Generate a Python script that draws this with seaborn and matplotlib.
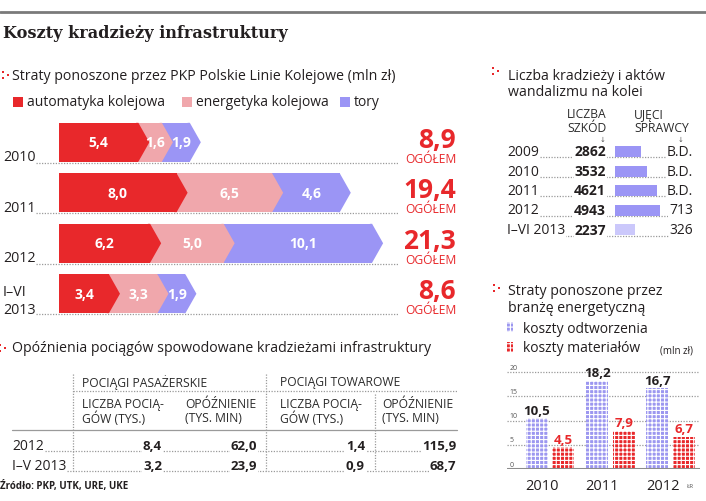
import matplotlib
matplotlib.use("Agg")
import matplotlib.pyplot as plt
from matplotlib.patches import Polygon, Rectangle
import seaborn as sns
import pandas as pd
import numpy as np

# ---------------- data ----------------
bar_years = ["2010", "2011", "2012", "I–VI\n2013"]
automatyka = [5.4, 8.0, 6.2, 3.4]
energetyka = [1.6, 6.5, 5.0, 3.3]
tory = [1.9, 4.6, 10.1, 1.9]
ogolem = [8.9, 19.4, 21.3, 8.6]

kr_years = ["2009", "2010", "2011", "2012", "I–VI 2013"]
liczba_szkod = [2862, 3532, 4621, 4943, 2237]
ujeci_sprawcy = ["B.D.", "B.D.", "B.D.", "713", "326"]

en_years = ["2010", "2011", "2012"]
koszty_odtworzenia = [10.5, 18.2, 16.7]
koszty_materialow = [4.5, 7.9, 6.7]

tab_rows = ["2012", "I–V 2013"]
pas_liczba = [8.4, 3.2]
pas_opozn = [62.0, 23.9]
tow_liczba = [1.4, 0.9]
tow_opozn = [115.9, 68.7]

# ---------------- style ----------------
sns.set_theme(style="white")
plt.rcParams["font.family"] = ["Open Sans", "DejaVu Sans"]
plt.rcParams["hatch.linewidth"] = 0.8

RED = "#e8282b"
PINK = "#f0a7ac"
PURPLE = "#9b95f5"
LPURPLE = "#cbc8fb"
TXT = "#231f20"
HDR = "#2b2b2b"

W, H = 706, 502
fig = plt.figure(figsize=(W / 100, H / 100), dpi=100)


def ax_px(x0, y0, x1, y1):
    return fig.add_axes([x0 / W, 1 - y1 / H, (x1 - x0) / W, (y1 - y0) / H])


def fmt(v):
    return f"{v:.1f}".replace(".", ",")


# overlay in pixel coordinates
ov = ax_px(0, 0, W, H)
ov.set_xlim(0, W)
ov.set_ylim(H, 0)
ov.axis("off")

DOT = dict(color="#9a9a9a", lw=0.9, ls=(0, (1, 1.2)))
WB = dict(facecolor="white", edgecolor="none", pad=0.6)
HS = 10.2   # section heading size
LS = 10.0   # legend size
CS = 8.7    # caps header size


def red_marker(x, y):
    ov.scatter([x, x, x + 5], [y - 3, y + 3, y], s=4, marker="s", color=RED, lw=0)


# top rule & title
ov.plot([0, W], [13, 13], color="#7a7a7a", lw=2)
ov.text(3, 34, "Koszty kradzieży infrastruktury", fontsize=11.6, fontweight="bold",
        family="DejaVu Serif", color=TXT, va="center", ha="left")

# ---------------- PKP bars ----------------
red_marker(3, 76)
ov.text(12, 76, "Straty ponoszone przez PKP Polskie Linie Kolejowe (mln zł)",
        fontsize=HS, color=TXT, va="center")
leg = [("automatyka kolejowa", RED, 13), ("energetyka kolejowa", PINK, 182), ("tory", PURPLE, 340)]
for lab, c, x in leg:
    ov.add_patch(Rectangle((x, 98), 10, 10, color=c, lw=0))
    ov.text(x + 14, 103, lab, fontsize=LS, color=TXT, va="center")

PXU = 14.7
bx0, bx1 = 59, 459
axb = ax_px(bx0, 118, bx1, 320)
cum1 = np.array(automatyka)
cum2 = cum1 + np.array(energetyka)
cum3 = cum2 + np.array(tory)
tip = 11 / PXU
bh = 0.77
layers = [(cum3, PURPLE, 2), (cum2, PINK, 3), (cum1, RED, 4)]
for vals, col, z in layers:
    n0 = len(axb.patches)
    df = pd.DataFrame({"rok": bar_years, "v": vals})
    sns.barplot(data=df, x="v", y="rok", orient="h", color=col, saturation=1,
                width=bh, linewidth=0, ax=axb)
    for p in list(axb.patches)[n0:]:
        p.set_zorder(z)
        x_end = p.get_x() + p.get_width()
        y0 = p.get_y()
        y1 = y0 + p.get_height()
        axb.add_patch(Polygon([(x_end - 0.15, y0), (x_end, y0), (x_end + tip, (y0 + y1) / 2),
                               (x_end, y1), (x_end - 0.15, y1)],
                              closed=True, color=col, lw=0, zorder=z))
axb.set_xlim(0, (bx1 - bx0) / PXU)
axb.set_ylim(3.5, -0.5)
axb.axis("off")

starts = [np.zeros(4), cum1, cum2]
segs = [automatyka, energetyka, tory]
for k in range(3):
    for i in range(4):
        s = starts[k][i] + (tip if k > 0 else 0)
        e = starts[k][i] + segs[k][i]
        axb.text((s + e) / 2, i, fmt(segs[k][i]), color="white", fontsize=10,
                 fontweight="bold", ha="center", va="center", zorder=6)

centers = [143.5, 194, 244.5, 295]
for i, c in enumerate(centers):
    bottom = c + 19.5
    ov.plot([3, 399], [bottom + 0.5, bottom + 0.5], **DOT)
    ov.text(456, c - 3, fmt(ogolem[i]), color=RED, fontsize=19, fontweight="bold",
            ha="right", va="center")
    ov.text(456, bottom - 3.5, "OGÓŁEM", color=RED, fontsize=8.7, ha="right", va="center")
    lab = bar_years[i]
    if "\n" in lab:
        l1, l2 = lab.split("\n")
        ov.text(3, c - 2, l1, fontsize=10.3, color=TXT, va="center", ha="left")
        ov.text(3, bottom - 4, l2, fontsize=10.3, color=TXT, va="center", ha="left", bbox=WB)
    else:
        ov.text(3, bottom - 5, lab, fontsize=10.3, color=TXT, va="center", ha="left", bbox=WB)

# ---------------- kradzieże panel ----------------
red_marker(493, 72)
ov.text(508, 76, "Liczba kradzieży i aktów", fontsize=HS, color=TXT, va="center")
ov.text(508, 93, "wandalizmu na kolei", fontsize=HS, color=TXT, va="center")
ov.text(567, 115, "LICZBA", fontsize=CS, color=HDR, va="center")
ov.text(567, 128, "SZKÓD", fontsize=CS, color=HDR, va="center")
ov.text(634, 115, "UJĘCI", fontsize=CS, color=HDR, va="center")
ov.text(634, 128, "SPRAWCY", fontsize=CS, color=HDR, va="center")
ov.text(603, 140, "↓", fontsize=5, color="#555", ha="center", va="center", family="DejaVu Sans")
ov.text(681, 140, "↓", fontsize=5, color="#555", ha="center", va="center", family="DejaVu Sans")

PXK = 0.0091
axk = ax_px(615, 142.7, 700, 240.8)
dfk = pd.DataFrame({"rok": kr_years, "n": liczba_szkod})
sns.barplot(data=dfk, x="n", y="rok", hue="rok", orient="h",
            palette=[PURPLE] * 4 + [LPURPLE], saturation=1, width=0.56,
            linewidth=0, legend=False, ax=axk)
axk.set_xlim(0, 85 / PXK)
axk.set_ylim(4.5, -0.5)
axk.axis("off")
for p in axk.patches:
    p.set_zorder(3)
kc = [152.5, 172.5, 191.5, 211, 231]
for i, c in enumerate(kc):
    ov.plot([507, 692], [c + 5.5, c + 5.5], **DOT)
    ov.text(507, c, kr_years[i], fontsize=10, color=TXT, va="center", ha="left", bbox=WB)
    ov.text(606, c, str(liczba_szkod[i]), fontsize=10, fontweight="bold", color=TXT,
            va="center", ha="right", bbox=WB)
    ov.text(693, c, ujeci_sprawcy[i], fontsize=10, color=TXT, va="center", ha="right", bbox=WB)

# ---------------- energetyka panel ----------------
HATCH = "||||----"
EPURPLE = "#9c97f0"
red_marker(494, 289)
ov.text(508, 292, "Straty ponoszone przez", fontsize=HS, color=TXT, va="center")
ov.text(508, 309, "branżę energetyczną", fontsize=HS, color=TXT, va="center")
ov.add_patch(Rectangle((507, 323), 6, 10, facecolor=EPURPLE, edgecolor="white",
                       hatch=HATCH, lw=0))
ov.text(523, 330, "koszty odtworzenia", fontsize=LS, color=TXT, va="center")
ov.add_patch(Rectangle((507, 343), 6, 10, facecolor=RED, edgecolor="white",
                       hatch=HATCH, lw=0))
ov.text(523, 349, "koszty materiałów", fontsize=LS, color=TXT, va="center")
ov.text(693, 351, "(mln zł)", fontsize=7, color=TXT, va="center", ha="right")

PXE = 4.85
axe = ax_px(507, 470 - 22 * PXE, 700, 470)
dfe = pd.DataFrame({
    "rok": en_years * 2,
    "v": koszty_odtworzenia + koszty_materialow,
    "typ": ["koszty odtworzenia"] * 3 + ["koszty materiałów"] * 3,
})
sns.barplot(data=dfe, x="rok", y="v", hue="typ", palette=[EPURPLE, RED],
            saturation=1, width=0.88, gap=0.17, linewidth=0, legend=False, ax=axe)
for p in axe.patches:
    p.set_hatch(HATCH)
    p.set_edgecolor("white")
    p.set_linewidth(0)
    p.set_zorder(3)
axe.set_ylim(0, 22)
axe.set_xlim(-0.713, 2.487)
for s in axe.spines.values():
    s.set_visible(False)
axe.set_yticks([5, 10, 15, 20])
axe.set_yticklabels([])
axe.set_xticks([])
axe.tick_params(length=0)
axe.set_xlabel("")
axe.set_ylabel("")
axe.yaxis.grid(True, color="#9a9a9a", lw=0.9, ls=(0, (1, 1.2)))
axe.set_axisbelow(True)
axe.axhline(0, color="#8c8c8c", lw=2.2, zorder=4)
for t in [0, 5, 10, 15, 20]:
    axe.text(0.012, t + 1.0, str(t), transform=axe.get_yaxis_transform(),
             fontsize=5, color="#555", va="center", ha="left")
conts = axe.containers
axe.bar_label(conts[0], labels=[fmt(v) for v in koszty_odtworzenia], padding=1,
              fontsize=9.5, fontweight="bold", color=TXT)
axe.bar_label(conts[1], labels=[fmt(v) for v in koszty_materialow], padding=1,
              fontsize=9.5, fontweight="bold", color=RED)
for i, y in enumerate(en_years):
    ov.text(550 + 60.3 * i - 8, 487, y, fontsize=10.5, color=TXT, ha="center", va="center")
ov.text(690, 487, "ŁR", fontsize=4.5, color="#555", ha="center", va="center")

# ---------------- table ----------------
red_marker(0, 349)
ov.text(12, 349, "Opóźnienia pociągów spowodowane kradzieżami infrastruktury",
        fontsize=HS, color=TXT, va="center")
for x, y0 in [(73, 375), (266, 375), (375, 395)]:
    ov.plot([x, x], [y0, 472], **DOT)
ov.plot([73, 457], [392, 392], **DOT)
ov.plot([12, 457], [431, 431], color="#9a9a9a", lw=0.9)
ov.text(82, 383, "POCIĄGI PASAŻERSKIE", fontsize=CS, color=HDR, va="center")
ov.text(280, 383, "POCIĄGI TOWAROWE", fontsize=CS, color=HDR, va="center")
for x in [82, 280]:
    ov.text(x, 405, "LICZBA POCIĄ-", fontsize=CS, color=HDR, va="center")
    ov.text(x, 419, "GÓW (TYS.)", fontsize=CS, color=HDR, va="center")
for x in [185, 382]:
    ov.text(x, 405, "OPÓŹNIENIE", fontsize=CS, color=HDR, va="center")
    ov.text(x, 419, "(TYS. MIN)", fontsize=CS, color=HDR, va="center")
cols = [(pas_liczba, 162), (pas_opozn, 257), (tow_liczba, 365), (tow_opozn, 456)]
for r, y in enumerate([447, 467]):
    ov.plot([12, 456], [y + 4.5, y + 4.5], **DOT)
    ov.text(12, y, tab_rows[r], fontsize=10, color=TXT, va="center", ha="left", bbox=WB)
    for vals, x in cols:
        ov.text(x, y, fmt(vals[r]), fontsize=9.5, fontweight="bold", color=TXT,
                va="center", ha="right", bbox=WB)

ov.text(0, 487, "Źródło: PKP, UTK, URE, UKE", fontsize=7, fontweight="bold",
        color=TXT, va="center", ha="left")

fig.savefig("out.png", dpi=100)
